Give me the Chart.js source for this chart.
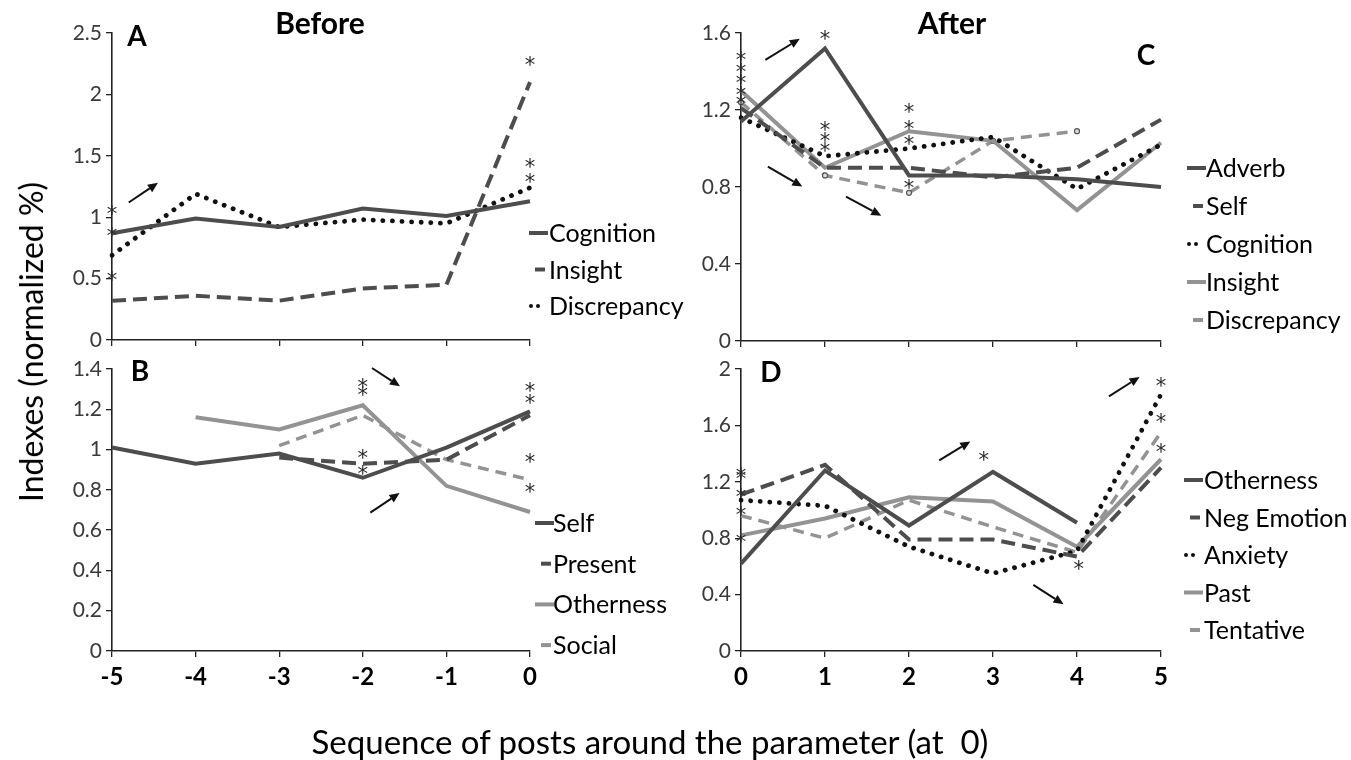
<!DOCTYPE html>
<html>
<head>
<meta charset="utf-8">
<script src="https://cdn.jsdelivr.net/npm/chart.js@4.4.1/dist/chart.umd.min.js"></script>
<style>
html,body{margin:0;padding:0;background:#fff;}
#wrap{position:relative;width:1351px;height:760px;overflow:hidden;font-family:Lato,'Open Sans',sans-serif;}
#wrap canvas{position:absolute;left:0;top:0;}
.t{position:absolute;white-space:nowrap;color:#000;line-height:1;transform:translate(-50%,-50%);}
.b{font-weight:bold;}
</style>
</head>
<body>
<div id="wrap">
<canvas id="cA" width="1351" height="760"></canvas>
<canvas id="cB" width="1351" height="760"></canvas>
<canvas id="cC" width="1351" height="760"></canvas>
<canvas id="cD" width="1351" height="760"></canvas>
<div class="t b" style="left:320px;top:22px;font-size:30px;">Before</div>
<div class="t b" style="left:952px;top:22px;font-size:30px;">After</div>
<div class="t b" style="left:137px;top:35px;font-size:28px;">A</div>
<div class="t b" style="left:140px;top:370px;font-size:28px;">B</div>
<div class="t b" style="left:1146px;top:54px;font-size:28px;">C</div>
<div class="t b" style="left:771px;top:371px;font-size:28px;">D</div>
<div class="t" style="left:31px;top:342px;font-size:32px;transform:translate(-50%,-50%) rotate(-90deg);">Indexes (normalized %)</div>
<div class="t" style="left:650px;top:741px;font-size:33px;">Sequence of posts around the parameter (at&nbsp;&nbsp;0)</div>
</div>
<script>
// ---------- DATA ----------
const xBefore = ['-5', '-4', '-3', '-2', '-1', '0'];
const xAfter = ['0', '1', '2', '3', '4', '5'];

const ticksA = [0, 0.5, 1, 1.5, 2, 2.5];
const ticksB = [0, 0.2, 0.4, 0.6, 0.8, 1, 1.2, 1.4];
const ticksC = [0, 0.4, 0.8, 1.2, 1.6];
const ticksD = [0, 0.4, 0.8, 1.2, 1.6, 2];

// Panel A (Before)
const cognitionA   = [0.87, 0.99, 0.92, 1.07, 1.01, 1.13];
const insightA     = [0.32, 0.36, 0.32, 0.42, 0.45, 2.10];
const discrepancyA = [0.69, 1.19, 0.92, 0.98, 0.95, 1.24];

// Panel B (Before)
const selfB      = [1.01, 0.93, 0.98, 0.86, 1.01, 1.19];
const presentB   = [null, null, 0.96, 0.93, 0.95, 1.17];
const othernessB = [null, 1.16, 1.10, 1.22, 0.82, 0.69];
const socialB    = [null, null, 1.02, 1.17, 0.95, 0.85];

// Panel C (After)
const adverbC      = [1.14, 1.52, 0.86, 0.86, 0.84, 0.80];
const selfC        = [1.21, 0.90, 0.90, 0.85, 0.90, 1.15];
const cognitionC   = [1.16, 0.96, 1.00, 1.06, 0.79, 1.02];
const insightC     = [1.30, 0.90, 1.09, 1.04, 0.68, 1.03];
const discrepancyC = [1.24, 0.86, 0.77, 1.04, 1.09, null];

// Panel D (After)
const othernessD  = [0.62, 1.28, 0.89, 1.27, 0.91, null];
const negEmotionD = [1.11, 1.32, 0.79, 0.79, 0.67, 1.30];
const anxietyD    = [1.07, 1.03, 0.74, 0.55, 0.71, 1.82];
const pastD       = [0.82, 0.94, 1.09, 1.06, 0.74, 1.36];
const tentativeD  = [0.96, 0.80, 1.07, 0.88, 0.70, 1.55];

// significance asterisks: [category index, value]
const starsA = [[0, 1.06], [0, 0.88], [0, 0.52], [5, 2.27], [5, 1.44], [5, 1.32]];
const starsB = [[3, 1.33], [3, 1.29], [3, 0.98], [3, 0.90], [5, 1.31], [5, 1.25], [5, 0.96], [5, 0.81]];
const starsC = [[0, 1.48], [0, 1.42], [0, 1.36], [0, 1.30], [0, 1.25], [1, 1.59], [1, 1.115], [1, 1.06], [1, 1.01],
                [2, 1.21], [2, 1.12], [2, 1.045], [2, 0.815]];
const starsD = [[0, 1.27], [0, 1.245], [0, 1.12], [0, 0.99], [0, 0.80], [2.89, 1.385], [4.02, 0.61],
                [5, 1.91], [5, 1.65], [5, 1.44]];

// trend arrows: [x1, y1, x2, y2] in (category index, value)
const arrowsA = [[0.20, 1.12, 0.55, 1.28]];
const arrowsB = [[3.11, 1.405, 3.445, 1.314], [3.09, 0.687, 3.44, 0.784]];
const arrowsC = [[0.29, 1.46, 0.70, 1.57], [0.32, 0.906, 0.73, 0.802], [1.25, 0.75, 1.67, 0.651]];
const arrowsD = [[2.36, 1.352, 2.73, 1.486], [3.48, 0.469, 3.84, 0.332], [4.38, 1.806, 4.745, 1.944]];

// ---------- STYLE ----------
const FONT = "Lato, 'Open Sans', sans-serif";
const STAR_FONT = "'DejaVu Sans', sans-serif";
const DARK = '#4d4d4d', LIGHT = '#939393', BLACK = '#111111';
const STY = {
  darkSolid:  {borderColor: DARK,  borderWidth: 4,   borderDash: [],        kind: 'solid'},
  darkDash:   {borderColor: DARK,  borderWidth: 4,   borderDash: [14, 7],   kind: 'dash'},
  dots:       {borderColor: BLACK, borderWidth: 4.8, borderDash: [0.1, 9.5], borderCapStyle: 'round', kind: 'dots'},
  lightSolid: {borderColor: LIGHT, borderWidth: 4,   borderDash: [],        kind: 'solid'},
  lightDash:  {borderColor: LIGHT, borderWidth: 3.5, borderDash: [11, 7],   kind: 'dash'}
};

function ds(label, data, style, extra) {
  return Object.assign({label, data, pointRadius: 0, pointHoverRadius: 0, tension: 0, fill: false,
    spanGaps: false, borderJoinStyle: 'miter'}, STY[style], extra || {});
}

const marksPlugin = {
  id: 'marks',
  afterDatasetsDraw(chart, args, opts) {
    const ctx = chart.ctx, xs = chart.scales.x, ys = chart.scales.y;
    ctx.save();
    // asterisks
    ctx.fillStyle = '#2a2a2a';
    ctx.font = '21px ' + STAR_FONT;
    ctx.textAlign = 'center';
    ctx.textBaseline = 'alphabetic';
    const m = ctx.measureText('*');
    const off = (m.actualBoundingBoxAscent - m.actualBoundingBoxDescent) / 2;
    (opts.stars || []).forEach(([i, v]) => {
      ctx.fillText('*', xs.getPixelForValue(i), ys.getPixelForValue(v) + off);
    });
    // arrows
    ctx.strokeStyle = BLACK; ctx.fillStyle = BLACK; ctx.lineWidth = 2;
    (opts.arrows || []).forEach(([a, b, c, d]) => {
      const x1 = xs.getPixelForValue(a), y1 = ys.getPixelForValue(b);
      const x2 = xs.getPixelForValue(c), y2 = ys.getPixelForValue(d);
      const ang = Math.atan2(y2 - y1, x2 - x1), L = 10, W = 4.5;
      const bx = x2 - L * Math.cos(ang), by = y2 - L * Math.sin(ang);
      ctx.beginPath(); ctx.moveTo(x1, y1); ctx.lineTo(bx, by); ctx.stroke();
      ctx.beginPath(); ctx.moveTo(x2, y2);
      ctx.lineTo(bx + W * Math.sin(ang), by - W * Math.cos(ang));
      ctx.lineTo(bx - W * Math.sin(ang), by + W * Math.cos(ang));
      ctx.closePath(); ctx.fill();
    });
    // legend
    const lg = opts.legend;
    if (lg) {
      ctx.font = lg.size + 'px ' + FONT;
      ctx.textAlign = 'left'; ctx.textBaseline = 'middle';
      chart.data.datasets.forEach((d, k) => {
        const y = lg.y0 + k * lg.gap;
        ctx.strokeStyle = d.borderColor; ctx.fillStyle = d.borderColor;
        ctx.lineWidth = 4; ctx.setLineDash([]); ctx.lineCap = 'butt';
        if (d.kind === 'solid') {
          ctx.beginPath(); ctx.moveTo(lg.x0, y); ctx.lineTo(lg.x0 + 19, y); ctx.stroke();
        } else if (d.kind === 'dash') {
          ctx.beginPath(); ctx.moveTo(lg.x0 + 6, y); ctx.lineTo(lg.x0 + 16, y); ctx.stroke();
        } else {
          [2, 9].forEach(o => { ctx.beginPath(); ctx.arc(lg.x0 + o, y, 2, 0, Math.PI * 2); ctx.fill(); });
        }
        ctx.fillStyle = '#000';
        ctx.fillText(d.label, lg.tx, y + 1);
      });
    }
    ctx.restore();
  }
};

function makeChart(id, cfg) {
  const yTicks = cfg.yTicks;
  return new Chart(document.getElementById(id), {
    type: 'line',
    data: {labels: cfg.labels, datasets: cfg.datasets},
    options: {
      responsive: false, animation: false, devicePixelRatio: 1,
      events: [],
      layout: {padding: cfg.padding},
      plugins: {legend: {display: false}, tooltip: {enabled: false}, title: {display: false},
                marks: {stars: cfg.stars, arrows: cfg.arrows, legend: cfg.legend}},
      scales: {
        x: {
          type: 'category', offset: false,
          grid: {display: true, drawOnChartArea: false, drawTicks: true, tickLength: 6, color: '#222', lineWidth: 1.3, offset: false},
          border: {display: true, color: '#222', width: 1.6},
          ticks: {display: cfg.showX, color: '#000', font: {family: FONT, size: 24, weight: 'bold'}, padding: 6, maxRotation: 0, autoSkip: false},
          afterFit: s => { s.height = cfg.xHeight; }
        },
        y: {
          min: cfg.yMin, max: cfg.yMax,
          afterBuildTicks: s => { s.ticks = yTicks.map(v => ({value: v})); },
          grid: {display: true, drawOnChartArea: false, drawTicks: true, tickLength: 6, color: '#222', lineWidth: 1.3},
          border: {display: true, color: '#222', width: 1.6},
          ticks: {color: '#3a3a3a', font: {family: FONT, size: 21}, padding: 4, callback: v => String(v)},
          afterFit: s => { s.width = cfg.yWidth; }
        }
      }
    },
    plugins: [marksPlugin]
  });
}

makeChart('cA', {
  labels: xBefore, yTicks: ticksA, yMin: 0, yMax: 2.5, showX: false,
  padding: {left: 0, right: 821, top: 33, bottom: 410}, xHeight: 10, yWidth: 112,
  datasets: [ds('Cognition', cognitionA, 'darkSolid'), ds('Insight', insightA, 'darkDash'), ds('Discrepancy', discrepancyA, 'dots')],
  stars: starsA, arrows: arrowsA,
  legend: {x0: 529, tx: 549, y0: 233, gap: 36.5, size: 25}
});

makeChart('cB', {
  labels: xBefore, yTicks: ticksB, yMin: 0, yMax: 1.4, showX: true,
  padding: {left: 0, right: 821, top: 369, bottom: 59}, xHeight: 50, yWidth: 112,
  datasets: [ds('Self', selfB, 'darkSolid'), ds('Present', presentB, 'darkDash'),
             ds('Otherness', othernessB, 'lightSolid'), ds('Social', socialB, 'lightDash')],
  stars: starsB, arrows: arrowsB,
  legend: {x0: 535, tx: 553, y0: 523, gap: 40.7, size: 25}
});

makeChart('cC', {
  labels: xAfter, yTicks: ticksC, yMin: 0, yMax: 1.6, showX: false,
  padding: {left: 681, right: 190, top: 33, bottom: 409}, xHeight: 10, yWidth: 60,
  datasets: [ds('Adverb', adverbC, 'darkSolid'), ds('Self', selfC, 'darkDash'), ds('Cognition', cognitionC, 'dots'),
             ds('Insight', insightC, 'lightSolid'),
             ds('Discrepancy', discrepancyC, 'lightDash', {pointRadius: 2.5, pointBorderColor: '#555', pointBorderWidth: 1.2, pointBackgroundColor: '#ddd', pointStyle: 'circle'})],
  stars: starsC, arrows: arrowsC,
  legend: {x0: 1187, tx: 1206, y0: 168, gap: 38, size: 25}
});

makeChart('cD', {
  labels: xAfter, yTicks: ticksD, yMin: 0, yMax: 2, showX: true,
  padding: {left: 681, right: 190, top: 369, bottom: 59}, xHeight: 50, yWidth: 60,
  datasets: [ds('Otherness', othernessD, 'darkSolid'), ds('Neg Emotion', negEmotionD, 'darkDash'),
             ds('Anxiety', anxietyD, 'dots'), ds('Past', pastD, 'lightSolid'), ds('Tentative', tentativeD, 'lightDash')],
  stars: starsD, arrows: arrowsD,
  legend: {x0: 1184, tx: 1204, y0: 480, gap: 37.5, size: 25}
});
</script>
</body>
</html>
